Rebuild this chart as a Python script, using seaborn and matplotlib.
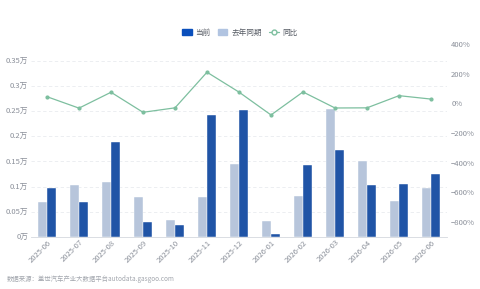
import numpy as np
import pandas as pd
import matplotlib
matplotlib.use('Agg')
import matplotlib.pyplot as plt
import seaborn as sns
from matplotlib.lines import Line2D
from matplotlib.patches import Patch

months = ['2025-06', '2025-07', '2025-08', '2025-09', '2025-10', '2025-11', '2025-12',
          '2026-01', '2026-02', '2026-03', '2026-04', '2026-05', '2026-06']
current = [0.098, 0.069, 0.189, 0.030, 0.023, 0.243, 0.252,
           0.006, 0.142, 0.173, 0.104, 0.106, 0.125]
last_year = [0.069, 0.104, 0.109, 0.080, 0.033, 0.079, 0.145,
             0.031, 0.081, 0.255, 0.151, 0.071, 0.098]
yoy = [45, -32, 75, -60, -30, 210, 76, -78, 77, -31, -30, 52, 29]

dark = '#0a4fbc'
light = '#b1c4e1'
green = '#7dbf9f'
grey = '#8a8f99'

sns.set_theme(style='white')
plt.rcParams['font.family'] = ['Noto Sans CJK SC', 'DejaVu Sans']

df = pd.DataFrame({
    'month': months * 2,
    'value': last_year + current,
    'kind': ['去年同期'] * len(months) + ['当前'] * len(months),
})

fig = plt.figure(figsize=(4.8, 2.89), dpi=100)
ax = fig.add_axes([31 / 480, 1 - 237 / 289, 416 / 480, 193 / 289])

sns.barplot(data=df, x='month', y='value', hue='kind', hue_order=['去年同期', '当前'],
            palette=[light, dark], width=0.58, gap=0.08, ax=ax, legend=False,
            edgecolor='white', linewidth=0.3)

ax.set_xlim(-0.5, len(months) - 0.5)
ax.set_ylim(0, 0.35 * 193 / 176.3)
yt = [0, 0.05, 0.1, 0.15, 0.2, 0.25, 0.3, 0.35]
ax.set_yticks(yt)
ax.set_yticklabels(['0万', '0.05万', '0.1万', '0.15万', '0.2万', '0.25万', '0.3万', '0.35万'])
for v in yt[1:]:
    ax.axhline(v, color='#e9ebef', lw=0.6, ls=(0, (4, 3)), zorder=0)
ax.set_xlabel('')
ax.set_ylabel('')
ax.tick_params(axis='y', labelsize=5.5, colors=grey, length=0, pad=2)
ax.tick_params(axis='x', labelsize=5.5, colors=grey, length=0, pad=1)
plt.setp(ax.get_xticklabels(), rotation=45, ha='right', rotation_mode='anchor')
for s in ['top', 'right', 'left']:
    ax.spines[s].set_visible(False)
ax.spines['bottom'].set_color('#d5d8de')
ax.spines['bottom'].set_linewidth(0.6)

ax2 = ax.twinx()
ax2.plot(range(len(months)), yoy, color=green, lw=0.9, marker='o', ms=2,
         mfc=green, mec=green)
ax2.set_ylim(-900, 400)
rt = [-800, -600, -400, -200, 0, 200, 400]
ax2.set_yticks(rt)
ax2.set_yticklabels([f'{t}%'.replace('-', '\u2212') for t in rt])
ax2.tick_params(axis='y', labelsize=5.5, colors=grey, length=0, pad=3)
for s in ['top', 'right', 'left', 'bottom']:
    ax2.spines[s].set_visible(False)
ax2.grid(False)

handles = [Patch(facecolor=dark, edgecolor=dark),
           Patch(facecolor=light, edgecolor=light),
           Line2D([0], [0], color=green, lw=0.9, marker='o', ms=3.5, mfc='white', mec=green)]
fig.legend(handles, ['当前', '去年同期', '同比'], loc='center', bbox_to_anchor=(0.5, 1 - 32.7 / 289),
           ncol=3, frameon=False, fontsize=5.5, handlelength=1.2, handleheight=0.8,
           columnspacing=1.0, handletextpad=0.5, labelcolor='#555a63')

fig.text(7 / 480, 1 - 279 / 289, '数据来源：盖世汽车产业大数据平台autodata.gasgoo.com',
         fontsize=4.6, color='#a3a7ae', va='center')

fig.savefig('out.png', dpi=100)
